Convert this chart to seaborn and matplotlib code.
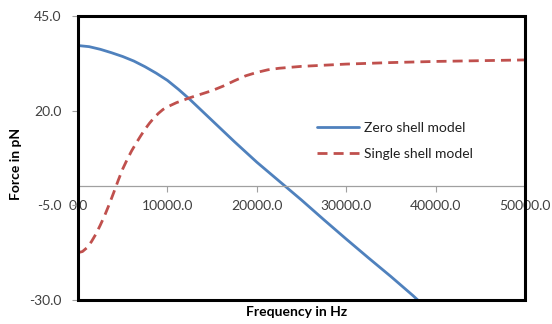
import matplotlib
matplotlib.use("Agg")
import matplotlib.pyplot as plt
import matplotlib.patches as patches
import seaborn as sns
import pandas as pd

# zero shell model (blue, solid)
freq_zero = [0, 1250, 2500, 3750, 5000, 6250, 7500, 8750, 10000, 11250,
             12500, 13750, 15000, 17500, 20000, 22500, 25000, 27500,
             30000, 32500, 35000, 37500, 38000]
force_zero = [37.2, 36.9, 36.2, 35.3, 34.3, 33.1, 31.6, 29.9, 28.0, 25.6,
              23.0, 20.2, 17.4, 11.8, 6.4, 1.4, -3.6, -8.8,
              -13.9, -18.9, -23.8, -28.9, -30.0]

# single shell model (red, dashed)
freq_single = [0, 500, 1000, 1500, 2000, 2500, 3000, 3500, 4000, 4500,
               5000, 5500, 6000, 6500, 7000, 7500, 8000, 8500, 9000, 9500,
               10000, 11000, 12500, 15000, 16250, 17500, 18750, 20000,
               21250, 22500, 25000, 30000, 35000, 40000, 45000, 50000]
force_single = [-17.5, -17.2, -16.2, -14.6, -12.6, -10.2, -7.6, -4.7, -1.6, 1.6,
                4.6, 7.1, 9.4, 11.4, 13.3, 15.1, 16.7, 18.1, 19.3, 20.3,
                21.0, 22.1, 23.4, 25.3, 26.5, 27.9, 29.2, 30.1,
                30.8, 31.2, 31.7, 32.3, 32.7, 33.0, 33.2, 33.4]

y_ticks = [-30, -5, 20, 45]
x_ticks = [0, 10000, 20000, 30000, 40000, 50000]

df = pd.concat([
    pd.DataFrame({"freq": freq_zero, "force": force_zero, "model": "Zero shell model"}),
    pd.DataFrame({"freq": freq_single, "force": force_single, "model": "Single shell model"}),
])

sns.set_style("white")
plt.rcParams["font.family"] = ["Lato", "DejaVu Sans"]

fig = plt.figure(figsize=(5.52, 3.24), dpi=100)
ax = fig.add_axes([78 / 552, 1 - 300 / 324, 447 / 552, 284 / 324])

sns.lineplot(data=df, x="freq", y="force", hue="model", style="model",
             palette=["#4F81BD", "#C0504D"],
             dashes=[(None, None), (3.6, 2.2)],
             linewidth=2, sort=False, estimator=None, ax=ax)

ax.set_xlim(0, 50000)
ax.set_ylim(-30, 45)
ax.set_xticks(x_ticks)
ax.set_yticks(y_ticks)
ax.set_xticklabels([f"{v:.1f}" for v in x_ticks])
ax.set_yticklabels([f"{v:.1f}" for v in y_ticks])

# horizontal axis sits at zero, box drawn around plot area
ax.spines["bottom"].set_position(("data", 0))
ax.spines["bottom"].set_color("#A0A0A0")
ax.spines["bottom"].set_linewidth(0.9)
for s in ["left", "top", "right"]:
    ax.spines[s].set_visible(False)
ax.add_patch(patches.Rectangle((0, 0), 1, 1, transform=ax.transAxes, fill=False,
                               edgecolor="black", linewidth=2.2, clip_on=False, zorder=5))

ax.tick_params(axis="x", direction="out", length=4, width=0.8, color="#A0A0A0",
               labelsize=10, labelcolor="#404040", pad=6, bottom=True)
ax.tick_params(axis="y", direction="out", length=4, width=0.8, color="#A0A0A0",
               labelsize=10, labelcolor="#404040", pad=8, left=True)

ax.set_xlabel("Frequency in Hz", fontsize=10, fontweight="bold", color="black")
ax.set_ylabel("Force in pN", fontsize=10, fontweight="bold", color="black")
ax.xaxis.set_label_coords(0.488, -0.02)
ax.yaxis.set_label_coords(-0.125, 0.48)

leg = ax.legend(loc="center left", bbox_to_anchor=(0.535, 0.56), frameon=False,
                fontsize=10, handlelength=3.0, handletextpad=0.4,
                labelspacing=1.05, borderaxespad=0, borderpad=0)
for t in leg.get_texts():
    t.set_color("#202020")

fig.savefig("out.png", dpi=100)
